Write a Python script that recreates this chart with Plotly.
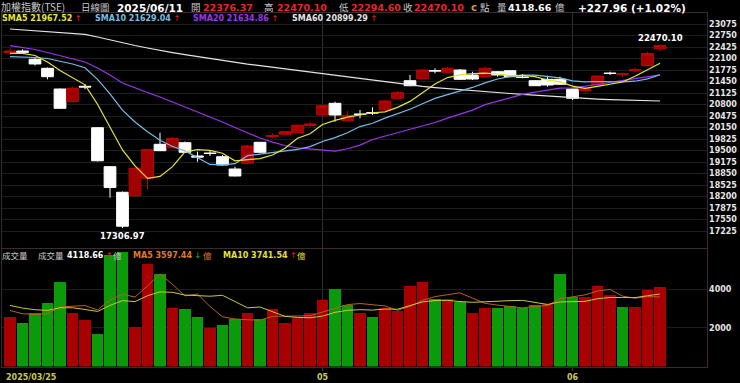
import plotly.graph_objects as go

# ---------------- data ----------------
dates = ["2025/03/25","2025/03/26","2025/03/27","2025/03/28","2025/03/31",
         "2025/04/01","2025/04/02","2025/04/07","2025/04/08","2025/04/09","2025/04/10","2025/04/11",
         "2025/04/14","2025/04/15","2025/04/16","2025/04/17","2025/04/18","2025/04/21","2025/04/22",
         "2025/04/23","2025/04/24","2025/04/25","2025/04/28","2025/04/29","2025/04/30",
         "2025/05/02","2025/05/05","2025/05/06","2025/05/07","2025/05/08","2025/05/09","2025/05/12",
         "2025/05/13","2025/05/14","2025/05/15","2025/05/16","2025/05/19","2025/05/20","2025/05/21",
         "2025/05/22","2025/05/23","2025/05/26","2025/05/27","2025/05/28","2025/05/29",
         "2025/06/02","2025/06/03","2025/06/04","2025/06/05","2025/06/06","2025/06/09","2025/06/10","2025/06/11"]

opens = [22270, 22312, 22077, 21823, 21238, 20879, 21314, 20144, 19042, 18319, 18223, 18714, 19675,
         19579, 19720, 19345, 19429, 19325, 18977, 19138, 19732, 19896, 19958, 20003, 20207, 20503,
         20834, 20342, 20532, 20574, 20645, 20975, 21473, 21529, 21761, 21710, 21775, 21634, 21586,
         21727, 21755, 21577, 21473, 21512, 21512, 21238, 21190, 21351, 21690, 21650, 21761, 21897, 22376.37]
highs = [22388, 22360, 22114, 21846, 21252, 21303, 21379, 20150, 19062, 18341, 19020, 19543, 20003,
         19882, 19754, 19466, 19486, 19373, 19042, 19655, 19740, 19986, 20051, 20235, 20314, 20786,
         20879, 20616, 20645, 20721, 20927, 21182, 21634, 21803, 21823, 21868, 21803, 21727, 21868,
         21747, 21775, 21662, 21492, 21614, 21586, 21252, 21303, 21620, 21727, 21704, 21840, 22292, 22470.10]
lows = [22199, 22227, 21902, 21512, 20673, 20871, 21230, 19189, 18166, 17306.97, 18200, 18403, 19486,
        19557, 19429, 19183, 19345, 19076, 18766, 19119, 19421, 19845, 19938, 19994, 20164, 20489,
        20314, 20334, 20410, 20503, 20631, 20961, 21314, 21512, 21682, 21690, 21492, 21492, 21577,
        21586, 21577, 21540, 21323, 21303, 21351, 20927, 21117, 21337, 21634, 21577, 21699, 21888, 22294.60]
closes = [22312, 22275, 21945, 21586, 20693, 21258, 21295, 19210, 18455, 17360, 19000, 19525, 19494,
          19845, 19449, 19316, 19415, 19090, 18779, 19627, 19449, 19924, 20031, 20212, 20249, 20766,
          20503, 20490, 20518, 20560, 20899, 21133, 21331, 21775, 21747, 21823, 21512, 21520, 21823,
          21634, 21586, 21563, 21331, 21351, 21371, 20975, 21258, 21605, 21676, 21665, 21783, 22242.14, 22470.10]

volumes = [2605, 2260, 2811, 3294, 4413, 2811, 2415, 1692, 5800, 5950, 2088, 5309, 4792, 3070, 2984,
           2605, 2036, 2157, 2501, 2777, 2501, 3018, 2260, 2518, 2811, 3449, 4017, 3190, 2811, 2588,
           3035, 2898, 4190, 4396, 3535, 3535, 3380, 2811, 3070, 3070, 3156, 3035, 3208, 3270, 4820,
           3620, 3601, 4180, 3700, 3080, 3090, 4000, 4118.66]
# 1 = up day (red bar), 0 = down day (green bar)
vol_up = [1,0,0,0,0,1,1,0,0,0,1,1,0,1,0,0,1,0,0,1,0,1,1,1,1,1,0,0,1,0,1,1,1,1,0,1,0,1,1,0,0,0,0,1,0,0,1,1,1,0,1,1,1]

# moving-average values before enough bars are on screen
sma5_head = [22247, 22247, 22185, 22001]
sma10_head = [22151, 22142, 22128, 22100, 22029, 21945, 21840, 21510, 21100]
sma20_head = [22462, 22411, 22354, 22270, 22185, 22100, 22001, 21832, 21634, 21408, 21266, 21139,
              21012, 20871, 20729, 20588, 20455, 20305, 20150]
sma60 = [22934, 22908, 22886, 22860, 22838, 22812, 22784, 22708, 22623, 22538, 22467, 22397, 22326,
         22267, 22210, 22154, 22097, 22041, 21987, 21942, 21897, 21851, 21806, 21764, 21724, 21685,
         21637, 21588, 21538, 21490, 21439, 21391, 21345, 21312, 21278, 21247, 21224, 21193, 21162,
         21136, 21111, 21085, 21060, 21035, 21012, 20984, 20967, 20950, 20935, 20922, 20912, 20905, 20899.29]
vol_ma5_head = [2898, 2725, 2690, 2725]
vol_ma10_head = [3157, 3019, 2933, 2898, 3036, 3036, 2950, 2846, 3157]

ma_names = ["SMA5", "SMA10", "SMA20", "SMA60"]
ma_last = [21967.52, 21629.04, 21634.86, 20899.29]
ma_arrow_up = [True, True, True, True]
vol_ma_names = ["MA5", "MA10"]
vol_ma_last = [3597.44, 3741.54]
vol_ma_arrow_up = [False, True]

price_ticks = [17225, 17550, 17875, 18200, 18525, 18850, 19175, 19500, 19825, 20150,
               20475, 20800, 21125, 21450, 21775, 22100, 22425, 22750, 23075]
vol_ticks = [2000, 4000]
label_dates = ["2025/03/25", "2025/05/02", "2025/06/02"]
label_texts = ["2025/03/25", "05", "06"]


def rolling(vals, w, head):
    out = []
    for i in range(len(vals)):
        if i >= w - 1:
            out.append(sum(vals[i - w + 1:i + 1]) / w)
        else:
            out.append(head[i])
    return out


sma5 = rolling(closes, 5, sma5_head)
sma10 = rolling(closes, 10, sma10_head)
sma20 = rolling(closes, 20, sma20_head)
vol_ma5 = rolling(volumes, 5, vol_ma5_head)
vol_ma10 = rolling(volumes, 10, vol_ma10_head)

xs = list(range(len(dates)))

# ---------------- styling ----------------
W, H = 740, 383
NUM = "DejaVu Sans"
CJK = "Noto Sans CJK TC"
RED_TXT = "#e8262a"
C_SMA = ["#e6e62e", "#74bde6", "#9a34ee", "#e4e4e4"]
C_VMA = ["#e07a2c", "#e2e232"]
C_VMA_LINE = ["#b8601c", "#c9c936"]

def px(x):
    return x / W

def py(y):
    return 1 - y / H

fig = go.Figure()

fig.add_trace(go.Candlestick(
    x=xs, open=opens, high=highs, low=lows, close=closes,
    increasing=dict(line=dict(color="#c00000", width=1), fillcolor="#a00000"),
    decreasing=dict(line=dict(color="#ffffff", width=1), fillcolor="#ffffff"),
    whiskerwidth=0, showlegend=False, xaxis="x", yaxis="y"))

for vals, col in zip([sma60, sma20, sma10, sma5], [C_SMA[3], C_SMA[2], C_SMA[1], C_SMA[0]]):
    fig.add_trace(go.Scatter(x=xs, y=vals, mode="lines", line=dict(color=col, width=1.2),
                             showlegend=False, xaxis="x", yaxis="y"))

fig.add_trace(go.Bar(x=xs, y=volumes, width=0.93,
                     marker=dict(color=["#a80000" if u else "#0a9a0a" for u in vol_up], line=dict(width=0)),
                     showlegend=False, xaxis="x2", yaxis="y2"))
fig.add_trace(go.Scatter(x=xs, y=vol_ma5, mode="lines", line=dict(color=C_VMA_LINE[0], width=1),
                         showlegend=False, xaxis="x2", yaxis="y2"))
fig.add_trace(go.Scatter(x=xs, y=vol_ma10, mode="lines", line=dict(color=C_VMA_LINE[1], width=1),
                         showlegend=False, xaxis="x2", yaxis="y2"))

xdom = [px(2), px(706.5)]
xr = [-0.64, 55.72]
divider_idx = [dates.index(d) for d in label_dates[1:]]
label_idx = [dates.index(d) for d in label_dates]
BORDER = "#3a2c2c"
GRID = "#1d1d1d"

fig.update_layout(
    width=W, height=H, autosize=False,
    margin=dict(l=0, r=0, t=0, b=0),
    paper_bgcolor="#000000", plot_bgcolor="#000000",
    boxgap=0.06, boxgroupgap=0.0,
    bargap=0,
    xaxis=dict(domain=xdom, range=xr, anchor="y", rangeslider=dict(visible=False),
               tickvals=divider_idx, showticklabels=False, showgrid=True, gridcolor="#2e2e2e",
               gridwidth=1, zeroline=False, showline=True, mirror=True, linecolor=BORDER, ticks=""),
    yaxis=dict(domain=[py(248), py(12.5)], range=[16744.5, 23400], anchor="x", side="right",
               tickvals=price_ticks, ticktext=[str(t) for t in price_ticks],
               tickfont=dict(family=NUM, size=8, color="#e6e6e6", weight="bold"),
               showgrid=True, gridcolor=GRID, zeroline=False, showline=True, mirror=True,
               linecolor=BORDER, ticks=""),
    xaxis2=dict(domain=xdom, range=xr, anchor="y2", matches="x",
                tickvals=divider_idx, showticklabels=False, showgrid=True, gridcolor="#2e2e2e",
                zeroline=False, showline=True, mirror=True, linecolor=BORDER,
                ticks="outside", ticklen=3, tickcolor="#3a3a3a"),
    yaxis2=dict(domain=[py(366.5), py(248.5)], range=[0, 6098], anchor="x2", side="right",
                tickvals=vol_ticks, ticktext=[str(t) for t in vol_ticks],
                tickfont=dict(family=NUM, size=8, color="#e6e6e6", weight="bold"),
                showgrid=True, gridcolor=GRID, zeroline=False, showline=True, mirror=True,
                linecolor=BORDER, ticks=""),
)

anns = []

def add(text, x, y, color, size=8, family=NUM, bold=False, anchor="left"):
    t = "<b>%s</b>" % text if bold else text
    anns.append(dict(text=t, x=px(x), y=py(y), xref="paper", yref="paper", showarrow=False,
                     xanchor=anchor, yanchor="middle", borderpad=0,
                     font=dict(family=family, size=size, color=color)))

# header row
GRAY = "#c8c8c8"
chg = closes[-1] - closes[-2]
pct = chg / closes[-2] * 100
add("加權指數(TSE)", 0, 7, GRAY, size=10, family=CJK)
add("日線圖", 80, 7, GRAY, size=9.5, family=CJK)
add(dates[-1], 116, 7.5, "#ffffff", size=10.5, bold=True)
add("開", 190, 7, GRAY, size=9.5, family=CJK)
add("%.2f" % opens[-1], 202, 7.5, RED_TXT, size=9.5, bold=True)
add("高", 263, 7, GRAY, size=9.5, family=CJK)
add("%.2f" % highs[-1], 276, 7.5, RED_TXT, size=9.5, bold=True)
add("低", 338, 7, GRAY, size=9.5, family=CJK)
add("%.2f" % lows[-1], 349.5, 7.5, RED_TXT, size=9.5, bold=True)
add("收", 402, 7, GRAY, size=9.5, family=CJK)
add("%.2f" % closes[-1], 413, 7.5, RED_TXT, size=9.5, bold=True)
add("c", 470, 7.5, "#d89a2a", size=10, bold=True)
add("點", 479, 7, GRAY, size=9.5, family=CJK)
add("量", 496, 7, GRAY, size=9.5, family=CJK)
add("%.2f" % volumes[-1], 507, 7.5, "#ffffff", size=9.5, bold=True)
add("億", 554, 7, GRAY, size=9.5, family=CJK)
add("%+.2f (%+.2f%%)" % (chg, pct), 577, 7.5, "#ffffff", size=10.5, bold=True)

# SMA legend row
ma_x = [1, 94, 192, 291]
for name, val, up, col, x0 in zip(ma_names, ma_last, ma_arrow_up, C_SMA, ma_x):
    arrow = '<span style="color:%s">%s</span>' % ("#ff2020" if up else "#20c020", "↑" if up else "↓")
    add("<b>%s %.2f</b> %s" % (name, val, arrow), x0, 18.5, col, size=8)

# volume legend row
add("成交量", 1, 255, GRAY, size=8.5, family=CJK)
add("成交量", 37, 255, GRAY, size=8.5, family=CJK)
add("<b>%.2f</b> <span style=\"color:#ff2020\">↑</span>" % volumes[-1], 66, 255.5, "#ffffff", size=8)
add("億", 112, 255, GRAY, size=8.5, family=CJK)
vma_x = [132, 222]
vma_yi = [202, 296]
for name, val, up, col, x0, xi in zip(vol_ma_names, vol_ma_last, vol_ma_arrow_up, C_VMA, vma_x, vma_yi):
    arrow = '<span style="color:%s">%s</span>' % ("#ff2020" if up else "#20c020", "↑" if up else "↓")
    add("<b>%s %.2f</b> %s" % (name, val, arrow), x0, 255.5, col, size=8)
    add("億", xi, 255, col, size=8.5, family=CJK)

# date labels
for i, (idx, txt) in enumerate(zip(label_idx, label_texts)):
    anns.append(dict(text="<b>%s</b>" % txt, x=idx, y=py(377.5), xref="x2", yref="paper",
                     showarrow=False, xanchor="left" if i == 0 else "center", yanchor="middle",
                     xshift=-6 if i == 0 else 0,
                     font=dict(family=NUM, size=8, color="#c8c85a")))

# high / low labels
imax = highs.index(max(highs))
imin = lows.index(min(lows))
anns.append(dict(text="<b>%.2f</b>" % highs[imax], x=imax, y=highs[imax], xref="x", yref="y",
                 showarrow=False, xanchor="center", yanchor="bottom", yshift=0,
                 font=dict(family=NUM, size=8.5, color="#ffffff")))
anns.append(dict(text="<b>%.2f</b>" % lows[imin], x=imin, y=lows[imin], xref="x", yref="y",
                 showarrow=False, xanchor="center", yanchor="top", yshift=-1,
                 font=dict(family=NUM, size=8.5, color="#ffffff")))

fig.update_layout(annotations=anns)
fig.write_html("out.html")
